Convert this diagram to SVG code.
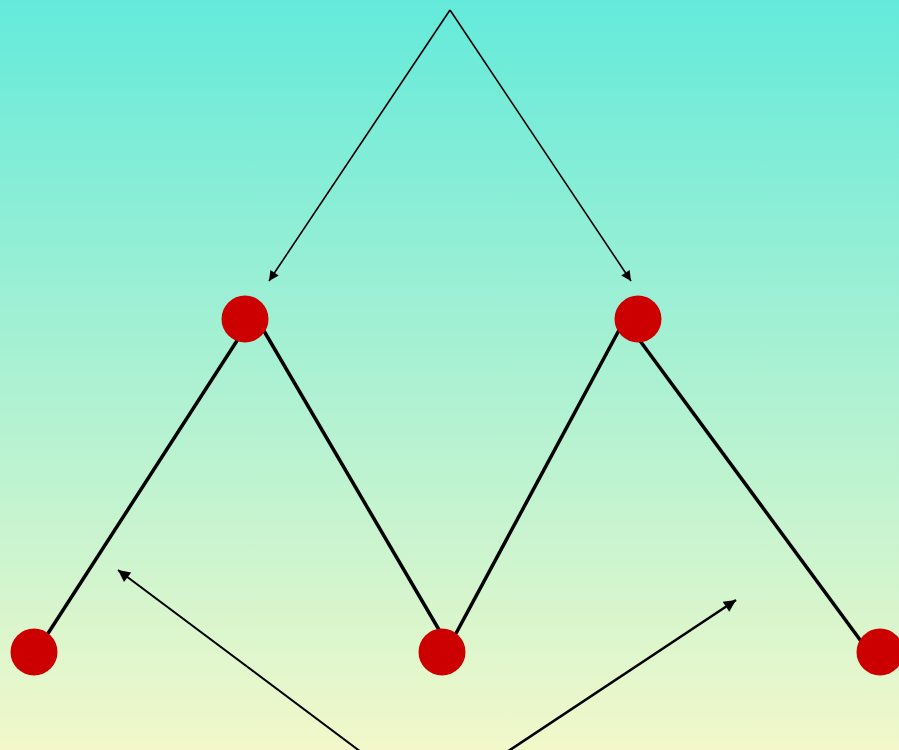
<svg xmlns="http://www.w3.org/2000/svg" width="899" height="750" viewBox="0 0 899 750">
<style>
.edge{stroke:#000;stroke-width:3.5;fill:none}
.arr{stroke:#000;fill:none}
.node{fill:#cc0000}
</style>
<defs>
<linearGradient id="bg" x1="0" y1="0" x2="0" y2="1">
<stop offset="0" stop-color="#64EADB"/>
<stop offset="1" stop-color="#F2F8CA"/>
</linearGradient>
<marker id="ahs" viewBox="0 0 10 10" refX="10" refY="5" markerWidth="12" markerHeight="10" markerUnits="userSpaceOnUse" orient="auto">
<path d="M0,0 L10,5 L0,10 z" fill="#000"/>
</marker>
<marker id="ahl" viewBox="0 0 10 10" refX="10" refY="5" markerWidth="16" markerHeight="12" markerUnits="userSpaceOnUse" orient="auto">
<path d="M0,0 L10,5 L0,10 z" fill="#000"/>
</marker>
</defs>
<rect x="0" y="0" width="899" height="750" fill="url(#bg)"/>
<g id="connectors">
<line class="edge" x1="36" y1="652" x2="251" y2="319"/>
<line class="edge" x1="257" y1="319" x2="452" y2="652"/>
<line class="edge" x1="446" y1="652" x2="625" y2="319"/>
<line class="edge" x1="624" y1="319" x2="869" y2="652"/>
<line class="arr" stroke-width="1.6" x1="450" y1="10" x2="269" y2="281" marker-end="url(#ahs)"/>
<line class="arr" stroke-width="1.6" x1="450" y1="10" x2="631" y2="281" marker-end="url(#ahs)"/>
<line class="arr" stroke-width="2" x1="361" y1="752" x2="118" y2="570" marker-end="url(#ahl)"/>
<line class="arr" stroke-width="2.5" x1="507" y1="752" x2="736" y2="600" marker-end="url(#ahl)"/>
</g>
<g id="node-a"><circle class="node" cx="245" cy="319" r="23.5"/></g>
<g id="node-b"><circle class="node" cx="638" cy="319" r="23.5"/></g>
<g id="node-c"><circle class="node" cx="34" cy="652" r="23.5"/></g>
<g id="node-d"><circle class="node" cx="442" cy="652" r="23.5"/></g>
<g id="node-e"><circle class="node" cx="880" cy="652" r="23.5"/></g>
</svg>
